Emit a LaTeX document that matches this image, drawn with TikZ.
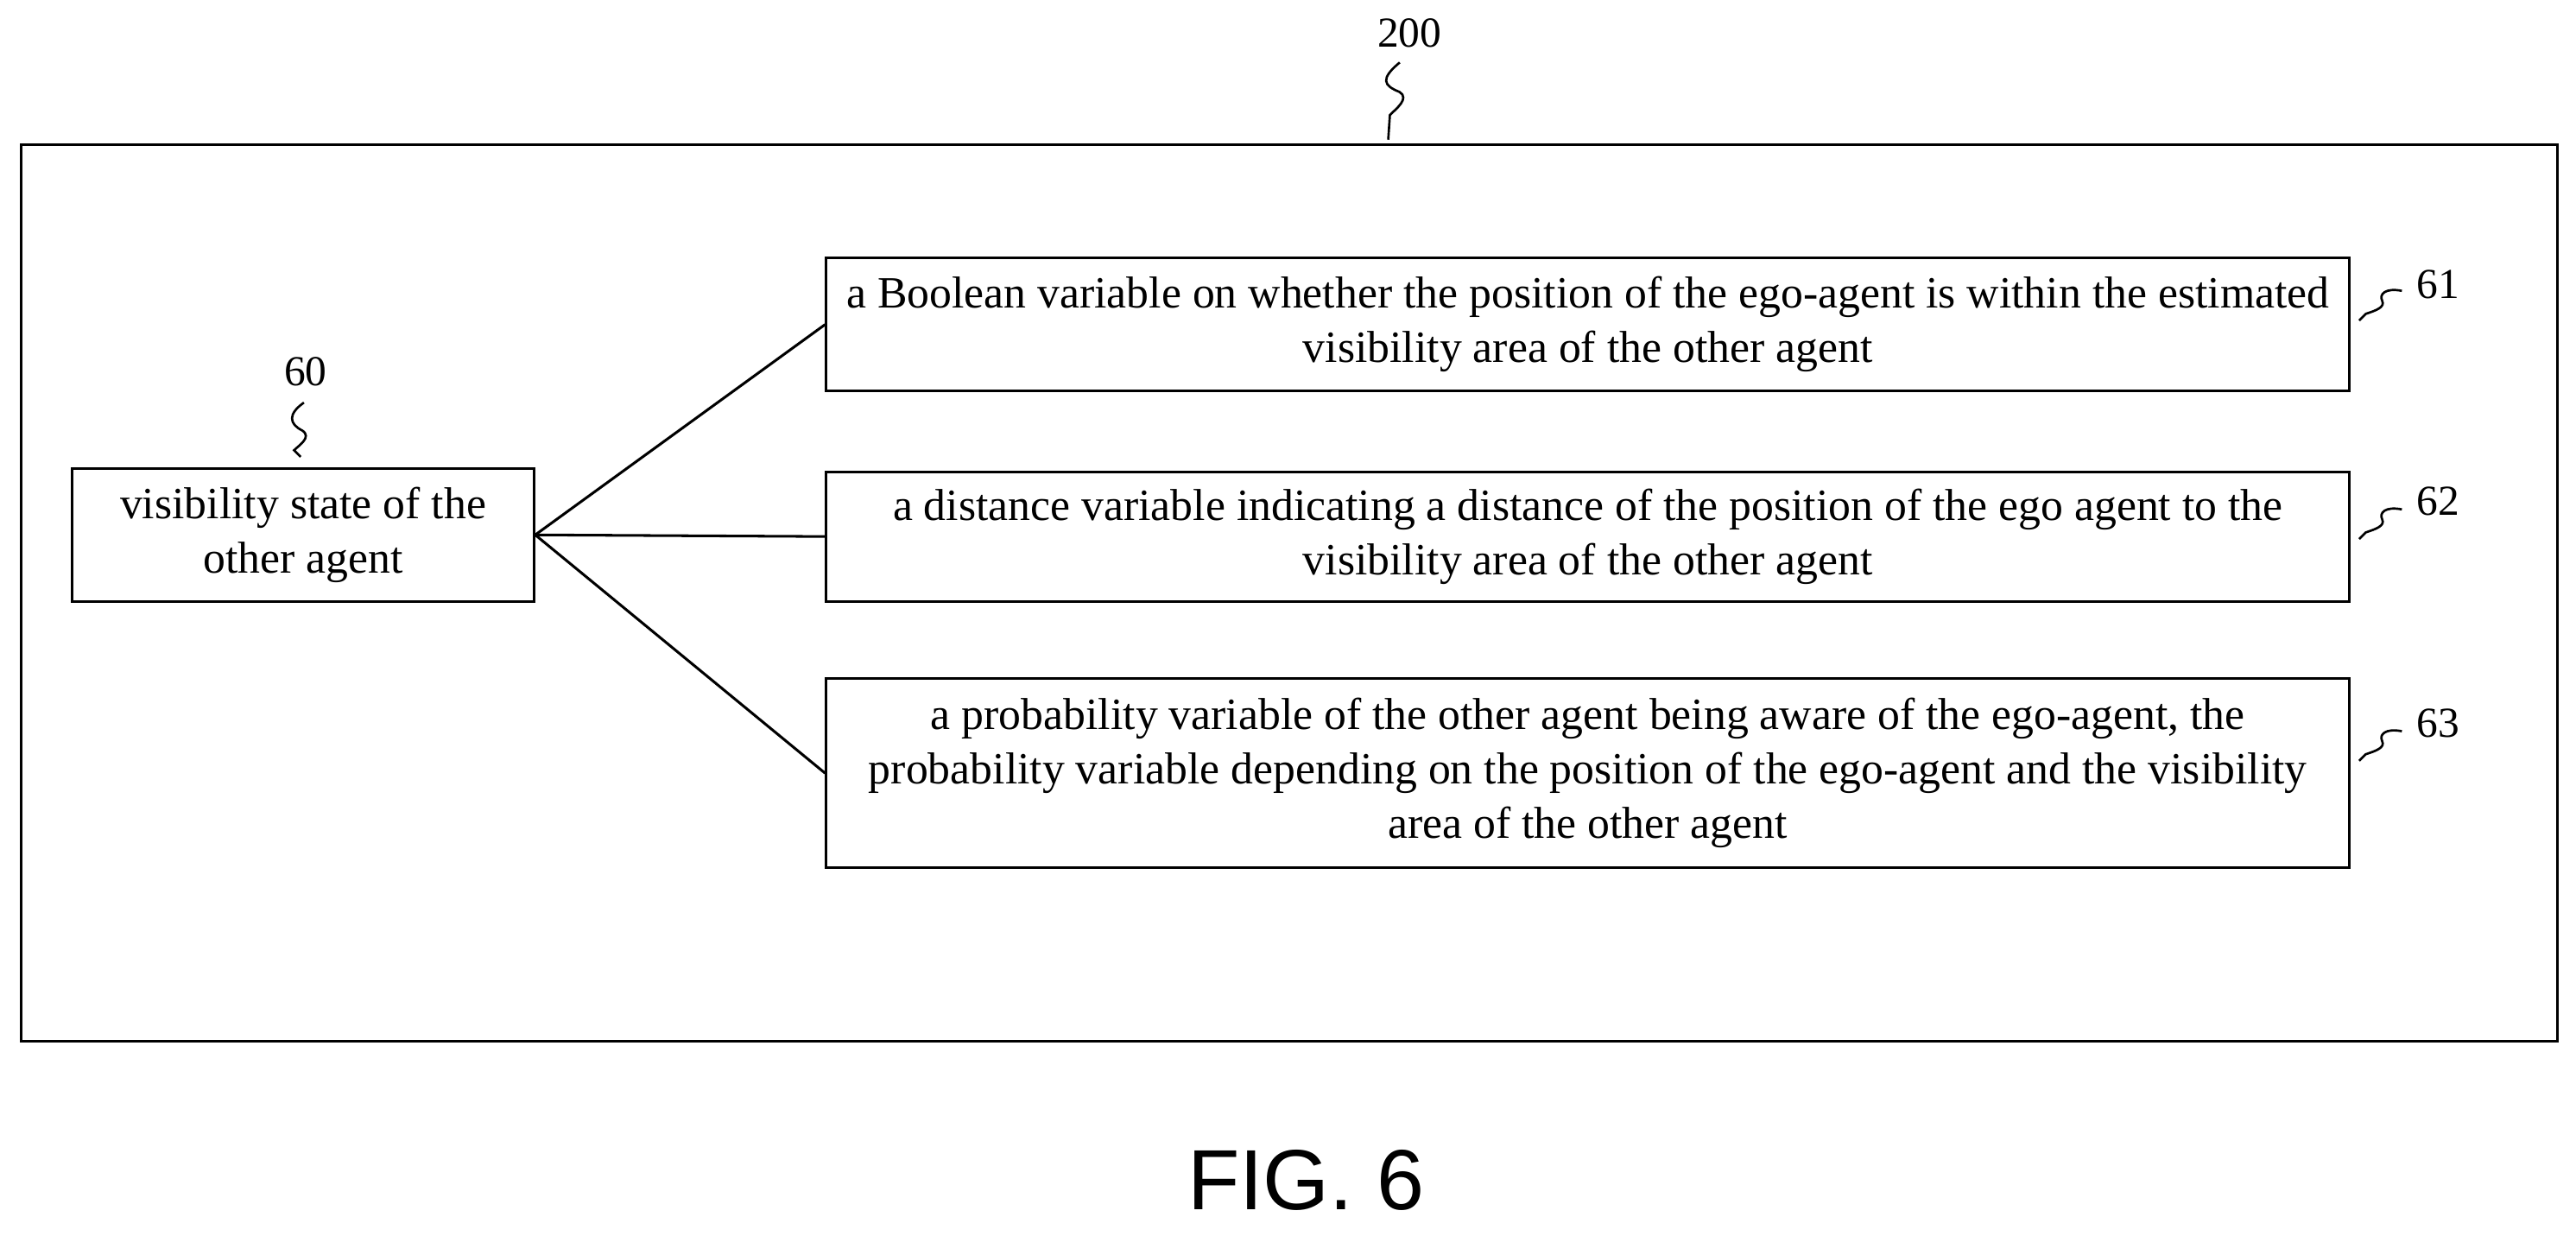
\documentclass[tikz,border=0pt]{standalone}
\usepackage{fontspec}
\setmainfont{Liberation Serif}
\newfontfamily\figfont{Liberation Sans}
\begin{document}
\begin{tikzpicture}[x=0.5pt,y=-0.5pt,
  box/.style={draw,line width=0.8pt,inner sep=0pt,align=center,font=\fontsize{13.6}{16.5}\selectfont},
  lab/.style={font=\fontsize{13}{15}\selectfont},
  sq/.style={line width=0.7pt},
  conn/.style={line width=0.8pt}]
\useasboundingbox (0,0) rectangle (1568,752);
\node[draw,line width=0.8pt,minimum width=1544*0.5pt,minimum height=546*0.5pt,anchor=north west,inner sep=0pt] (outer) at (12,87) {};
\node[box,minimum width=281*0.5pt,minimum height=81*0.5pt] (b60) at (184.5,325.5) {visibility state of the\\other agent};
\node[box,minimum width=927*0.5pt,minimum height=81*0.5pt] (b61) at (966.5,197.5) {a Boolean variable on whether the position of the ego-agent is within the estimated\\visibility area of the other agent};
\node[box,minimum width=927*0.5pt,minimum height=79*0.5pt] (b62) at (966.5,326.5) {a distance variable indicating a distance of the position of the ego agent to the\\visibility area of the other agent};
\node[box,minimum width=927*0.5pt,minimum height=115*0.5pt] (b63) at (966.5,470.5) {a probability variable of the other agent being aware of the ego-agent, the\\probability variable depending on the position of the ego-agent and the visibility\\area of the other agent};
\draw[conn] (b60.east) -- (b61.west);
\draw[conn] (b60.east) -- (b62.west);
\draw[conn] (b60.east) -- (b63.west);
\node[lab] (l200) at (858,20) {200};
\node[lab] (l60) at (186,226) {60};
\node[lab] (l61) at (1484,173) {61};
\node[lab] (l62) at (1484,305) {62};
\node[lab] (l63) at (1484,440) {63};
\coordinate (t200) at (845,85);
\draw[sq] (852,38) .. controls (840,48) and (842,52) .. (852,56) .. controls (858,60) and (850,66) .. (846,70) -- (t200);
\coordinate (t60) at (183,278);
\draw[sq] (185,245) .. controls (175,252) and (176,258) .. (184,262) .. controls (190,266) and (182,271) .. (179,274) -- (t60);
\foreach \y/\n in {185/61,318/62,453/63}{
  \draw[sq] (1462,\y-8) .. controls (1452,\y-10) and (1448,\y-6) .. (1450,\y-2) .. controls (1452,\y+2) and (1446,\y+4) .. (1440,\y+6) -- (1436,\y+10);
}
\node[font=\figfont\fontsize{26}{30}\selectfont] (fig) at (795,718) {FIG. 6};
\end{tikzpicture}
\end{document}
